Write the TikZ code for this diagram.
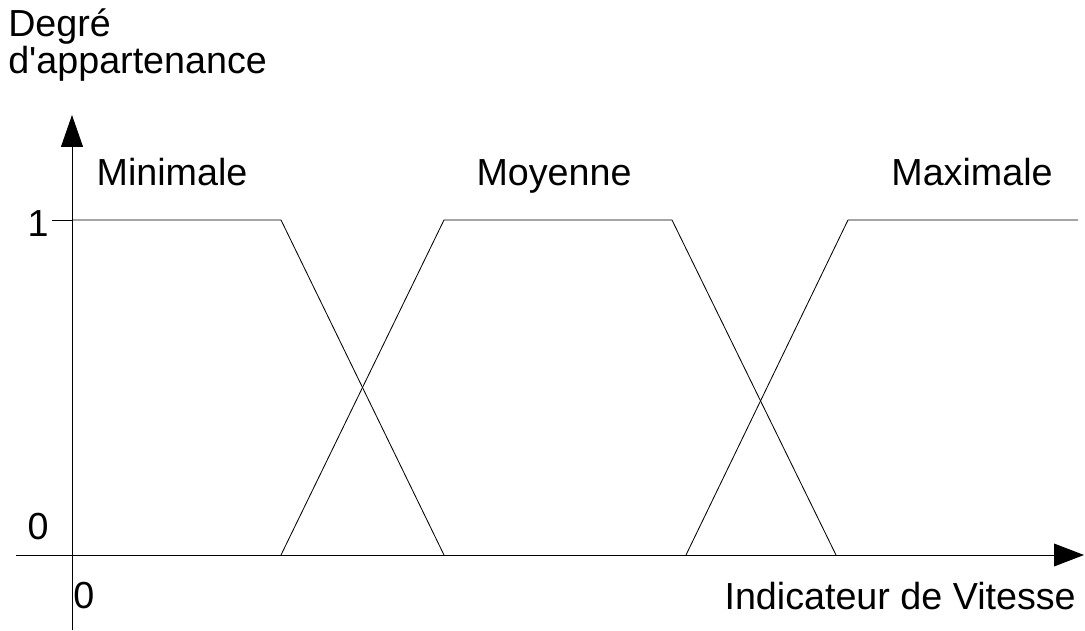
\documentclass[tikz,border=0pt]{standalone}
\usepackage{fontspec}
\setmainfont{Liberation Sans}
\usetikzlibrary{arrows.meta, positioning}

\begin{document}
\begin{tikzpicture}[every node/.style={font=\fontsize{26.8}{28}\selectfont, inner sep=0pt}]
\useasboundingbox (0,0) rectangle (27.125,15.75);

% axes
\draw[black, line width=0.7pt, -{Triangle[length=0.8cm, width=0.55cm]}] (1.8,0) -- (1.8,12.875);
\draw[black, line width=0.7pt, -{Triangle[length=0.75cm, width=0.57cm]}] (0.4,1.875) -- (27.1,1.875);
\node[anchor=base west] (ylabel) at (0.2, 14.825) {Degré};
\node[anchor=base west] (ylabelb) at (0.2, 13.9) {d\textquotesingle appartenance};
\node[anchor=base east] (xlabel) at (26.9, 0.525) {Indicateur de Vitesse};

% graduations
\draw[black, line width=0.6pt] (1.3,10.25) -- (1.8,10.25);
\node[anchor=base east] (one) at (1.22, 9.825) {1};
\node[anchor=base east] (zeroy) at (1.22, 2.275) {0};
\node[anchor=base west] (zerox) at (1.83, 0.55) {0};

% fonctions d'appartenance
\coordinate (minA) at (1.8,10.25);
\coordinate (minB) at (7.025,10.25);
\coordinate (minC) at (11.1,1.875);
\coordinate (moyA) at (7.025,1.875);
\coordinate (moyB) at (11.1,10.25);
\coordinate (moyC) at (16.8,10.25);
\coordinate (moyD) at (20.9,1.875);
\coordinate (maxA) at (17.15,1.875);
\coordinate (maxB) at (21.2,10.25);
\coordinate (maxC) at (26.95,10.25);
\draw[black, line width=0.6pt] (minA) -- (minB) -- (minC);
\draw[black, line width=0.6pt] (moyA) -- (moyB) -- (moyC) -- (moyD);
\draw[black, line width=0.6pt] (maxA) -- (maxB) -- (maxC);

\node[anchor=base] (minimale) at (4.3, 11.1) {Minimale};
\node[anchor=base] (moyenne) at (13.85, 11.1) {Moyenne};
\node[anchor=base] (maximale) at (24.3, 11.1) {Maximale};

\end{tikzpicture}
\end{document}
